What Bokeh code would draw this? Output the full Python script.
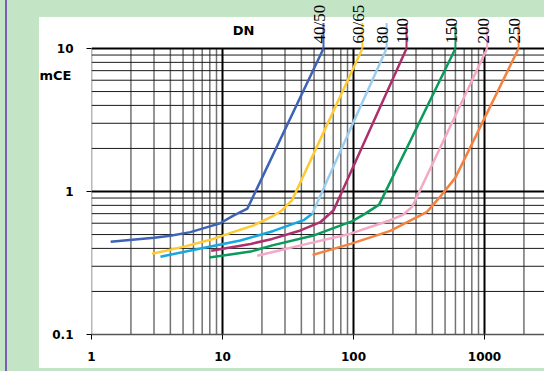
import math
from bokeh.plotting import figure
from bokeh.models import FixedTicker, CustomJSTickFormatter, LogAxis
from bokeh.core.properties import value
from bokeh.embed import file_html
from bokeh.resources import INLINE

# ---------------- data ----------------
DN_LABELS = ["40/50", "60/65", "80", "100", "150", "200", "250"]

Q_4050 = [1.4, 3.0, 4.0, 5.7, 8.0, 9.6, 12.2, 15.5, 59]
H_4050 = [0.445, 0.475, 0.49, 0.52, 0.57, 0.60, 0.68, 0.76, 10]

Q_6065 = [2.9, 5.0, 8.5, 12.0, 17.3, 24, 28, 34, 117]
H_6065 = [0.367, 0.41, 0.466, 0.52, 0.58, 0.67, 0.73, 0.87, 10]

Q_80 = [3.36, 6.8, 13.7, 24.5, 41.6, 48.4, 179]
H_80 = [0.35, 0.40, 0.454, 0.53, 0.63, 0.70, 10]
KNEE_80 = 5

Q_100 = [8.2, 16.4, 24, 39.4, 55.8, 70.5, 254]
H_100 = [0.385, 0.43, 0.466, 0.534, 0.61, 0.74, 10]

Q_150 = [7.9, 16.4, 24, 48.7, 98, 123, 157, 600]
H_150 = [0.345, 0.38, 0.42, 0.49, 0.62, 0.70, 0.81, 10]

Q_200 = [18.4, 39.4, 95, 191, 240, 280, 1048]
H_200 = [0.355, 0.42, 0.507, 0.63, 0.69, 0.78, 10]

Q_250 = [48.7, 95, 191, 364, 459, 600, 1820]
H_250 = [0.36, 0.43, 0.53, 0.72, 0.92, 1.25, 10]

X_TICKS = [1, 10, 100, 1000]
Y_TICKS = [0.1, 1, 10]
X_GRID_MINOR = [1, 2, 3, 4, 5, 6, 7, 8, 9, 20, 30, 40, 50, 60, 70, 80, 90,
                200, 300, 400, 500, 600, 700, 800, 900, 2000]
X_GRID_MAJOR = [10, 100, 1000]
Y_GRID_MINOR = [0.2, 0.3, 0.4, 0.5, 0.6, 0.7, 0.8, 0.9, 2, 3, 4, 5, 6, 7, 8, 9]
Y_GRID_MAJOR = [1, 10]
Y_UNIT_LABEL = "mCE"
X_TITLE = "DN"

# ---------------- styles / layout ----------------
GREEN = "#c4e4c6"
PURPLE = "#7b5fb5"
C_4050 = "#3e63b6"
C_6065 = "#fecb35"
C_80_LOW = "#15a8e0"
C_80_HIGH = "#9ccdee"
C_100 = "#ad2f6c"
C_150 = "#0b9a5c"
C_200 = "#f5a8c5"
C_250 = "#f5823f"

W, H = 544, 371
BORDER_L, BORDER_B = 91, 37
PX_X_DECADE, PX_Y_DECADE = 131.0, 143.0
X_START, Y_START = 1.0, 0.1
X_END = X_START * 10 ** ((W - BORDER_L) / PX_X_DECADE)
Y_END = Y_START * 10 ** ((H - BORDER_B) / PX_Y_DECADE)
Y_TOP = 10
LEADER_TOP = 15.1
DN_POS = (14.5, 13.3)
MCE_Y = 6.5

p = figure(width=W, height=H, x_axis_type="log", y_axis_type="log",
           x_range=(X_START, X_END), y_range=(Y_START, Y_END),
           output_backend="svg", toolbar_location=None,
           min_border_left=BORDER_L, min_border_right=0,
           min_border_top=0, min_border_bottom=BORDER_B)
p.outline_line_color = None
p.background_fill_color = None
p.border_fill_color = None
p.styles = {
    "background-color": GREEN,
    "background-image": "linear-gradient(white, white), linear-gradient(%s, %s)" % (PURPLE, PURPLE),
    "background-size": "505px 351px, 2px 100%",
    "background-position": "39px 17px, 5px 0px",
    "background-repeat": "no-repeat",
}
p.xgrid.visible = False
p.ygrid.visible = False

fmt = CustomJSTickFormatter(code="return tick.toString();")
p.xaxis.ticker = FixedTicker(ticks=X_TICKS)
p.yaxis.ticker = FixedTicker(ticks=Y_TICKS)
for ax in (p.xaxis[0], p.yaxis[0]):
    ax.formatter = fmt
    ax.major_label_text_font = "DejaVu Sans"
    ax.major_label_text_font_style = "bold"
    ax.major_label_text_font_size = "12px"
    ax.major_label_text_color = "black"
    ax.major_tick_out = 5
    ax.major_tick_in = 0
    ax.major_tick_line_color = "black"
    ax.major_tick_line_width = 1
    ax.minor_tick_line_color = None
p.xaxis.axis_line_color = "#555555"
p.xaxis.axis_line_width = 1.5
p.yaxis.axis_line_color = None
p.xaxis.major_label_standoff = 12
p.yaxis.major_label_standoff = 13

# unit label "mCE" as a second (label-only) left axis
mce_axis = LogAxis(ticker=FixedTicker(ticks=[MCE_Y]),
                   formatter=CustomJSTickFormatter(code="return '%s';" % Y_UNIT_LABEL))
mce_axis.axis_line_color = None
mce_axis.major_tick_line_color = None
mce_axis.minor_tick_line_color = None
mce_axis.major_tick_out = 0
mce_axis.major_tick_in = 0
mce_axis.major_label_standoff = -22
mce_axis.major_label_text_font = "DejaVu Sans"
mce_axis.major_label_text_font_style = "bold"
mce_axis.major_label_text_font_size = "13px"
mce_axis.major_label_text_color = "black"
p.add_layout(mce_axis, "left")

# grid
p.segment(x0=X_GRID_MINOR, y0=[Y_START] * len(X_GRID_MINOR), x1=X_GRID_MINOR, y1=[Y_TOP] * len(X_GRID_MINOR),
          line_color="#737373", line_width=1.5)
p.segment(x0=[X_START] * len(Y_GRID_MINOR), y0=Y_GRID_MINOR, x1=[X_END] * len(Y_GRID_MINOR), y1=Y_GRID_MINOR,
          line_color="#1a1a1a", line_width=1)
p.segment(x0=X_GRID_MAJOR, y0=[Y_START] * len(X_GRID_MAJOR), x1=X_GRID_MAJOR, y1=[Y_TOP] * len(X_GRID_MAJOR),
          line_color="black", line_width=2)
p.segment(x0=[X_START] * len(Y_GRID_MAJOR), y0=Y_GRID_MAJOR, x1=[X_END] * len(Y_GRID_MAJOR), y1=Y_GRID_MAJOR,
          line_color="black", line_width=2)

# curves
LW = 2.5
p.line(Q_4050, H_4050, line_color=C_4050, line_width=LW)
p.line(Q_6065, H_6065, line_color=C_6065, line_width=LW)
p.line(Q_80[:KNEE_80 + 1], H_80[:KNEE_80 + 1], line_color=C_80_LOW, line_width=LW)
p.line(Q_80[KNEE_80:], H_80[KNEE_80:], line_color=C_80_HIGH, line_width=LW)
p.line(Q_100, H_100, line_color=C_100, line_width=LW)
p.line(Q_150, H_150, line_color=C_150, line_width=LW)
p.line(Q_200, H_200, line_color=C_200, line_width=LW)
p.line(Q_250, H_250, line_color=C_250, line_width=LW)

# leader lines + DN labels
tops_x = [Q_4050[-1], Q_6065[-1], Q_80[-1], Q_100[-1], Q_150[-1], Q_200[-1], Q_250[-1]]
tops_y = [H_4050[-1], H_6065[-1], H_80[-1], H_100[-1], H_150[-1], H_200[-1], H_250[-1]]
top_colors = [C_4050, C_6065, C_80_HIGH, C_100, C_150, C_200, C_250]
p.segment(x0=tops_x, y0=tops_y, x1=tops_x, y1=[LEADER_TOP] * len(tops_x),
          line_color=top_colors, line_width=2)
p.text(x=tops_x, y=tops_y, text=DN_LABELS, angle=math.pi / 2,
       text_align="left", text_baseline="alphabetic", x_offset=-4, y_offset=-5,
       text_font=value("Liberation Sans Narrow"), text_font_size="17px", text_color="black")
p.text(x=[DN_POS[0]], y=[DN_POS[1]], text=[X_TITLE], text_align="center", text_baseline="middle",
       text_font=value("DejaVu Sans"), text_font_style="bold", text_font_size="13px", text_color="black")

open("out.html", "w").write(file_html(p, INLINE))
